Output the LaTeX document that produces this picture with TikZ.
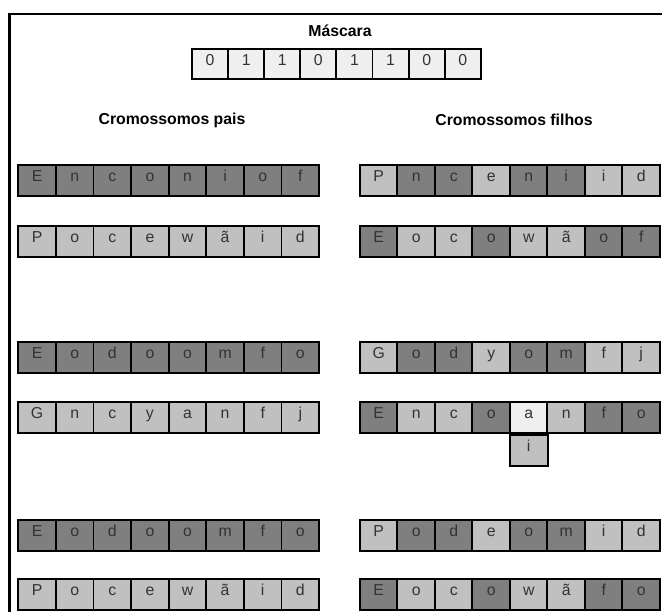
\documentclass[tikz,border=0pt]{standalone}
\usepackage{fontspec}
\setmainfont{Liberation Sans}
\usepackage{tikz}
\usetikzlibrary{positioning}
\definecolor{celldark}{HTML}{7F7F7F}
\definecolor{celllight}{HTML}{C0C0C0}
\definecolor{cellpale}{HTML}{EFEFEF}
\definecolor{genetext}{HTML}{333333}
\tikzset{
    gene/.style={draw, line width=1.7pt, minimum width=1.128cm, minimum height=0.93cm, inner sep=0pt, text=genetext, text height=0.72em, text depth=0.5em, font=\fontsize{13.5}{15}\selectfont},
    genedk/.style={gene, fill=celldark},
    genelt/.style={gene, fill=celllight},
    genepl/.style={gene, fill=cellpale},
    maskbit/.style={draw, line width=1.7pt, fill=cellpale, minimum width=1.083cm, minimum height=0.9cm, inner sep=0pt, text=genetext, text height=0.72em, text depth=0.5em, font=\fontsize{13.5}{15}\selectfont},
    heading/.style={font=\bfseries\fontsize{13.5}{15}\selectfont},
    frame/.style={line width=1.8pt},
}

\begin{document}
\begin{tikzpicture}[x=0.03cm, y=-0.03cm]
    \useasboundingbox (0,0) rectangle (662,612);
    % moldura
    \coordinate (fbot) at (9.5,612);
    \coordinate (ftop) at (9.5,14);
    \coordinate (fright) at (662,14);
    \draw[frame] (fbot) -- (ftop) -- (fright);

    % titulos
    \node[heading] (tmask) at (340,31) {Máscara};
    \node[heading] (tpais) at (172,120) {Cromossomos pais};
    \node[heading] (tfilhos) at (514,120) {Cromossomos filhos};

    % mascara
    \foreach \b [count=\i] in {0,1,1,0,1,1,0,0}
        \node[maskbit] (m\i) at ({192+36.1*(\i-0.5)},64) {\b};

    % pais
    \foreach \ch [count=\i] in {E,n,c,o,n,i,o,f}
        \node[genedk] (p1-\i) at ({18.3+37.6*(\i-0.5)},180.5) {\ch};
    \foreach \ch [count=\i] in {P,o,c,e,w,ã,i,d}
        \node[genelt] (p2-\i) at ({18.3+37.6*(\i-0.5)},241.5) {\ch};
    \foreach \ch [count=\i] in {E,o,d,o,o,m,f,o}
        \node[genedk] (p3-\i) at ({18.3+37.6*(\i-0.5)},357.5) {\ch};
    \foreach \ch [count=\i] in {G,n,c,y,a,n,f,j}
        \node[genelt] (p4-\i) at ({18.3+37.6*(\i-0.5)},417.5) {\ch};
    \foreach \ch [count=\i] in {E,o,d,o,o,m,f,o}
        \node[genedk] (p5-\i) at ({18.3+37.6*(\i-0.5)},535.5) {\ch};
    \foreach \ch [count=\i] in {P,o,c,e,w,ã,i,d}
        \node[genelt] (p6-\i) at ({18.3+37.6*(\i-0.5)},594.5) {\ch};

    % filhos
    \foreach \ch/\st [count=\i] in {P/genelt,n/genedk,c/genedk,e/genelt,n/genedk,i/genedk,i/genelt,d/genelt}
        \node[\st] (f1-\i) at ({360+37.5*(\i-0.5)},180.5) {\ch};
    \foreach \ch/\st [count=\i] in {E/genedk,o/genelt,c/genelt,o/genedk,w/genelt,ã/genelt,o/genedk,f/genedk}
        \node[\st] (f2-\i) at ({360+37.5*(\i-0.5)},241.5) {\ch};
    \foreach \ch/\st [count=\i] in {G/genelt,o/genedk,d/genedk,y/genelt,o/genedk,m/genedk,f/genelt,j/genelt}
        \node[\st] (f3-\i) at ({360+37.5*(\i-0.5)},357.5) {\ch};
    \foreach \ch/\st [count=\i] in {E/genedk,n/genelt,c/genelt,o/genedk,a/genepl,n/genelt,f/genedk,o/genedk}
        \node[\st] (f4-\i) at ({360+37.5*(\i-0.5)},417.5) {\ch};
    \node[genelt, below=0pt of f4-5] (f4-5b) {i};
    \foreach \ch/\st [count=\i] in {P/genelt,o/genedk,d/genedk,e/genelt,o/genedk,m/genedk,i/genelt,d/genelt}
        \node[\st] (f5-\i) at ({360+37.5*(\i-0.5)},535.5) {\ch};
    \foreach \ch/\st [count=\i] in {E/genedk,o/genelt,c/genelt,o/genedk,w/genelt,ã/genelt,f/genedk,o/genedk}
        \node[\st] (f6-\i) at ({360+37.5*(\i-0.5)},594.5) {\ch};
\end{tikzpicture}
\end{document}
